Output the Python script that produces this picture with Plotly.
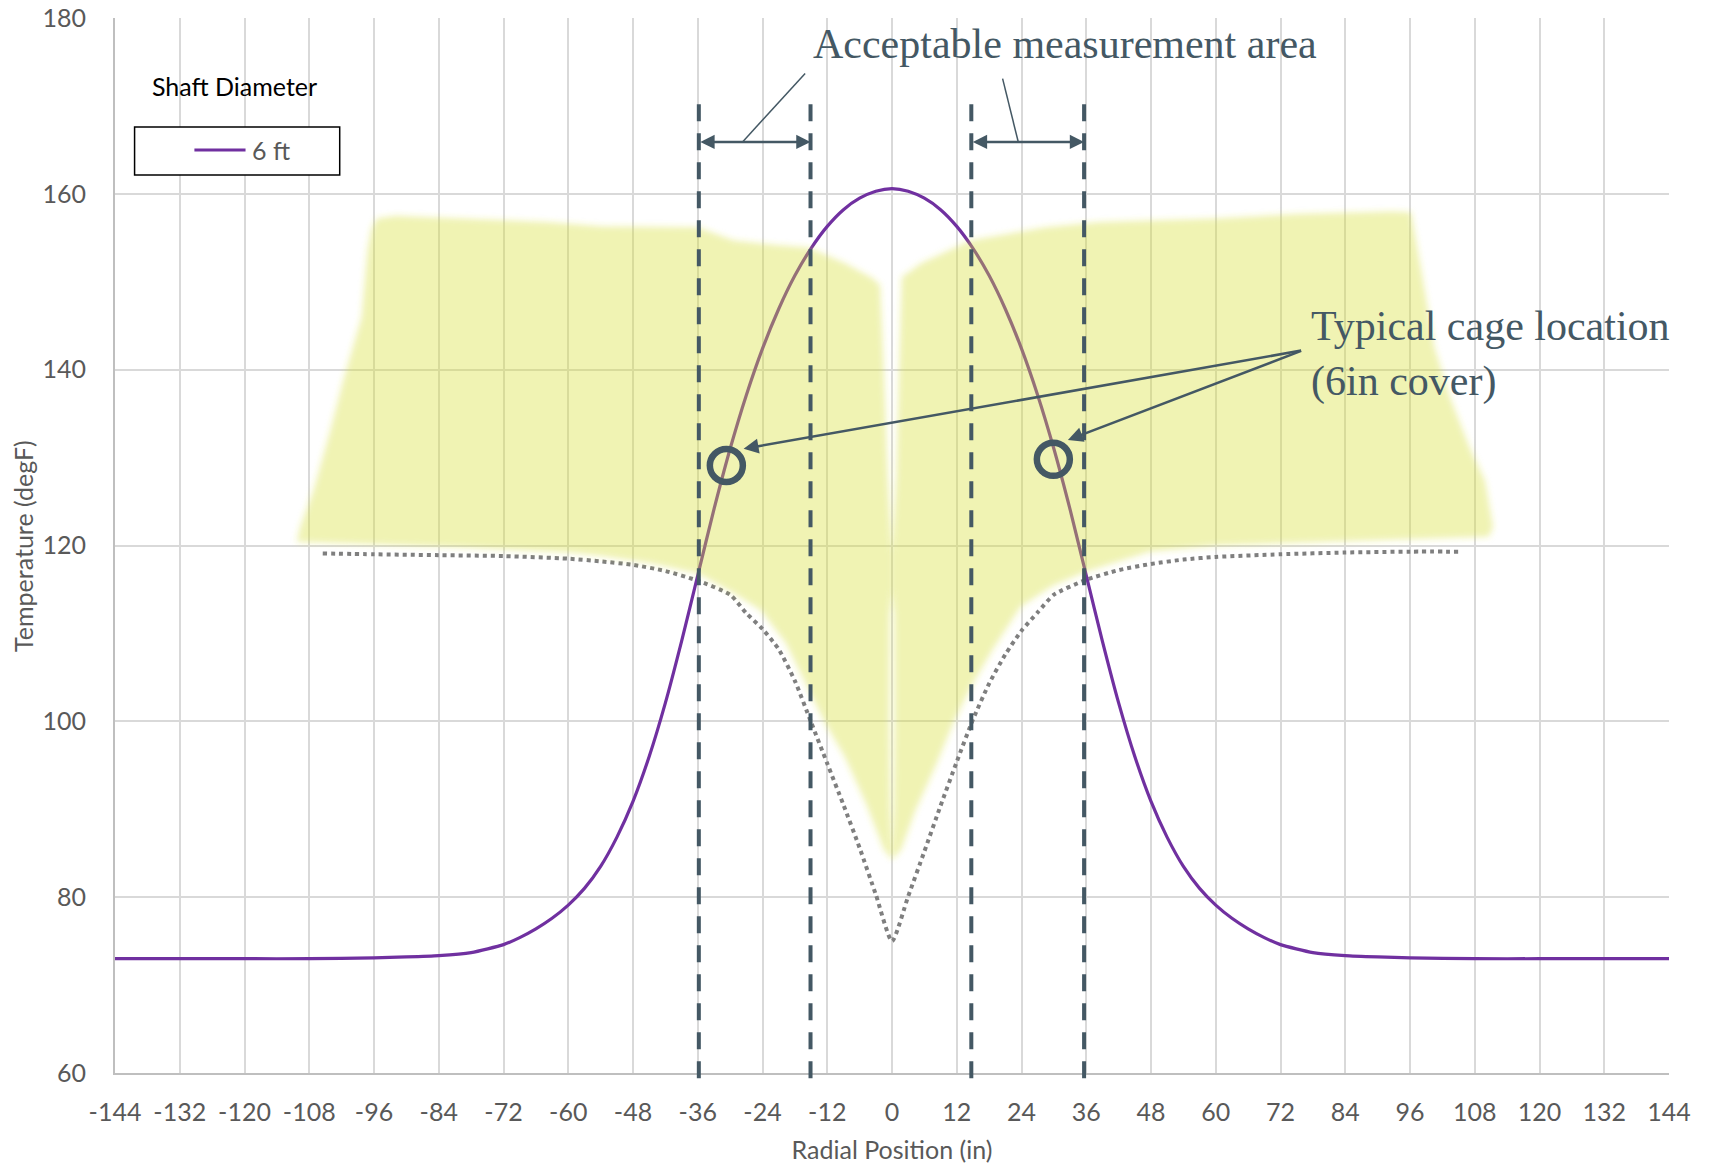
import plotly.graph_objects as go

# ---------------------------------------------------------------
# Radial temperature profile across a 6 ft drilled shaft
# ---------------------------------------------------------------
radial_in = [-144, -132, -120, -108, -96, -90, -84, -78, -72, -69, -66, -63, -60, -57, -54, -51,
             -48, -45, -42, -39, -36, -33, -30, -27, -24, -21, -18, -15, -12, -9, -6, -3, 0,
             3, 6, 9, 12, 15, 18, 21, 24, 27, 30, 33, 36, 39, 42, 45, 48,
             51, 54, 57, 60, 63, 66, 69, 72, 78, 84, 90, 96, 108, 120, 132, 144]
temp_6ft = [73.0, 73.0, 73.0, 73.0, 73.1, 73.2, 73.35, 73.7, 74.6, 75.4, 76.4, 77.6, 79.1, 81.0, 83.5, 86.8,
            90.9, 96.0, 102.1, 109.1, 116.6, 124.1, 131.0, 137.1, 142.4, 146.9, 150.7, 153.8, 156.3, 158.2, 159.5, 160.3, 160.6,
            160.3, 159.5, 158.2, 156.3, 153.8, 150.7, 146.9, 142.4, 137.1, 131.0, 124.1, 116.6, 109.1, 102.1, 96.0, 90.9,
            86.8, 83.5, 81.0, 79.1, 77.6, 76.4, 75.4, 74.6, 73.7, 73.35, 73.2, 73.1, 73.0, 73.0, 73.0, 73.0]

# Reference (dotted) profile
ref_in = [-105.5, -96, -84, -72, -60, -54, -48, -42, -36, -30, -27, -24, -21, -18, -15, -12, -9, -6, -3, 0,
          3, 6, 9, 12, 15, 18, 21, 24, 27, 30, 36, 42, 48, 54, 60, 72, 84, 96, 105.5]
ref_temp = [119.1, 119.0, 118.9, 118.8, 118.5, 118.2, 117.8, 117.1, 116.0, 114.4, 112.3, 110.5, 108.2, 104.6, 99.9, 95.2, 90.5, 85.6, 80.3, 75.0,
            80.1, 85.2, 90.4, 95.4, 100.2, 104.3, 107.6, 110.3, 112.4, 114.4, 116.1, 117.2, 117.9, 118.4, 118.7, 119.0, 119.2, 119.3, 119.3]

# Highlighted zone (two lobes split by a narrow gap at the centre)
zone_left_x = [-110.3, -109.7, -107.2, -104.1, -101.7, -100.1, -98.3, -97.2, -96.5, -95.5,
               -92.0, -80.0, -64.0, -54.0, -36.0, -29.3, -22.0, -15.5, -8.7, -3.6, -2.2,
               -1.5, -0.8, -0.2, 0.0, 0.0, -0.45, -0.5, -0.35, 0.0,
               -1.5, -4.8, -8.7, -12.6, -15.8, -19.7, -24.3, -29.4, -35.9, -45.0, -54.0,
               -60.0, -80.0, -100.0]
zone_left_t = [120.4, 122.1, 126.3, 133.1, 138.8, 142.2, 146.0, 153.6, 156.0, 157.2,
               157.5, 157.2, 156.8, 156.3, 156.2, 154.7, 154.2, 153.9, 152.1, 150.4, 149.6,
               140.0, 128.0, 121.0, 119.0, 115.0, 112.0, 100.0, 90.0, 84.3,
               85.4, 90.6, 95.9, 100.0, 104.0, 108.9, 112.6, 114.6, 116.8, 118.0, 118.8,
               119.2, 119.8, 120.2]

zone_right_x = [0.0, 0.35, 0.5, 0.45, 0.0, 0.0, 0.2, 0.8, 1.3, 1.8,
                5.4, 14.5, 28.5, 38.5, 60.1, 74.6, 92.6, 96.2,
                98.4, 100.5, 103.4, 107.0, 109.9, 111.4, 110.6,
                89.0, 60.1, 47.7, 35.8, 29.7, 23.8, 18.6, 14.7, 11.5, 8.2, 4.3, 1.7]
zone_right_t = [84.3, 90.0, 100.0, 112.0, 115.0, 119.0, 121.0, 128.0, 140.0, 150.5,
                152.1, 154.7, 156.2, 156.8, 157.2, 157.7, 158.0, 157.9,
                150.2, 142.6, 136.9, 131.2, 127.4, 122.1, 121.0,
                120.6, 120.0, 119.3, 117.0, 115.4, 113.0, 108.1, 104.0, 100.0, 95.1, 89.8, 85.4]

# Acceptable measurement bands (inner / outer bounds, in)
band_left = [-35.8, -15.1]
band_right = [14.7, 35.6]
band_top_temp = 170.5
band_bottom_temp = 59.4
band_arrow_temp = 165.9

# Typical cage locations (marked with circles)
cage_x = [-30.7, 29.9]
cage_t = [129.1, 129.8]

x_ticks = [-144, -132, -120, -108, -96, -84, -72, -60, -48, -36, -24, -12, 0,
           12, 24, 36, 48, 60, 72, 84, 96, 108, 120, 132, 144]
y_ticks = [60, 80, 100, 120, 140, 160, 180]

X_RANGE = [-144, 144]
Y_RANGE = [60, 180]

SLATE = "#445864"
PURPLE = "#7030A0"
HAZE = "rgba(215,223,47,0.37)"
SERIF = "Liberation Serif"
SANS = "Lato"


def to_paper_y(t):
    return (t - Y_RANGE[0]) / (Y_RANGE[1] - Y_RANGE[0])


fig = go.Figure()

fig.add_trace(go.Scatter(
    x=ref_in, y=ref_temp, mode="lines",
    line=dict(color="#7F7F7F", width=4, dash="4px,4px", shape="spline", smoothing=0.6),
    hoverinfo="skip", showlegend=False))

fig.add_trace(go.Scatter(
    x=radial_in, y=temp_6ft, mode="lines", name="6 ft",
    line=dict(color=PURPLE, width=3.2, shape="spline", smoothing=0.6),
    showlegend=False))

for zx, zt in ((zone_left_x, zone_left_t), (zone_right_x, zone_right_t)):
    fig.add_trace(go.Scatter(
        x=zx, y=zt, mode="lines", fill="toself", fillcolor=HAZE,
        line=dict(width=0, color="rgba(0,0,0,0)"),
        hoverinfo="skip", showlegend=False))

fig.add_trace(go.Scatter(
    x=cage_x, y=cage_t, mode="markers",
    marker=dict(symbol="circle-open", size=33, line=dict(color=SLATE, width=6.5), color=SLATE),
    hoverinfo="skip", showlegend=False))

# Dashed band boundaries
for bx in band_left + band_right:
    fig.add_shape(type="line", xref="x", yref="paper",
                  x0=bx, x1=bx, y0=to_paper_y(band_bottom_temp), y1=to_paper_y(band_top_temp),
                  line=dict(color=SLATE, width=4, dash="17px,12px"), layer="above")

# Double-headed width arrows
for b in (band_left, band_right):
    fig.add_annotation(x=b[1], y=band_arrow_temp, ax=b[0], ay=band_arrow_temp,
                       xref="x", yref="y", axref="x", ayref="y", text="",
                       showarrow=True, arrowhead=2, startarrowhead=2, arrowside="end+start",
                       arrowsize=1.1, startarrowsize=1.1, arrowwidth=2.6, arrowcolor=SLATE,
                       standoff=0, startstandoff=0)

# Leader lines from the label to the arrows
leaders = [((-16.1, 173.7), (-27.7, band_arrow_temp)), ((20.5, 173.1), (23.4, band_arrow_temp))]
for (x0, y0), (x1, y1) in leaders:
    fig.add_shape(type="line", xref="x", yref="y", x0=x0, y0=y0, x1=x1, y1=y1,
                  line=dict(color=SLATE, width=1.5), layer="above")

fig.add_annotation(x=-15.0, y=177.0, xref="x", yref="y", xanchor="left", yanchor="middle",
                   text="Acceptable measurement area", showarrow=False,
                   font=dict(family=SERIF, size=42, color=SLATE))

# Cage callout
callout_origin = (76.1, 142.2)
cage_tips = [(-27.5, 131.0), (32.6, 132.0)]
for tx, ty in cage_tips:
    fig.add_annotation(x=tx, y=ty, ax=callout_origin[0], ay=callout_origin[1],
                       xref="x", yref="y", axref="x", ayref="y", text="",
                       showarrow=True, arrowhead=2, arrowsize=1.15, arrowwidth=2.6,
                       arrowcolor=SLATE, standoff=0)

fig.add_annotation(x=77.2, y=141.8, xref="x", yref="y", xanchor="left", yanchor="middle",
                   align="left", text="Typical cage location<br>(6in cover)", showarrow=False,
                   font=dict(family=SERIF, size=42, color=SLATE))

# Legend block
fig.add_annotation(x=0.0772, y=0.936, xref="paper", yref="paper", xanchor="center", yanchor="middle",
                   text="Shaft Diameter", showarrow=False, font=dict(family=SANS, size=25, color="#000000"))
fig.add_shape(type="rect", xref="paper", yref="paper", x0=0.0126, x1=0.1446, y0=0.8512, y1=0.8966,
              line=dict(color="#000000", width=1.5), fillcolor="white", layer="above")
fig.add_shape(type="line", xref="paper", yref="paper", x0=0.0511, x1=0.0840, y0=0.8749, y1=0.8749,
              line=dict(color=PURPLE, width=3.2), layer="above")
fig.add_annotation(x=0.0870, y=0.8749, xref="paper", yref="paper", xanchor="left", yanchor="middle",
                   text="6 ft", showarrow=False, font=dict(family=SANS, size=25, color="#595959"))

# Vertical axis title
fig.add_annotation(x=-0.0596, y=0.5, xref="paper", yref="paper", xanchor="center", yanchor="middle",
                   text="Temperature (degF)", textangle=-90, showarrow=False,
                   font=dict(family=SANS, size=25, color="#595959"))

fig.update_layout(
    width=1711, height=1169,
    margin=dict(l=114.6, r=41.5, t=17.5, b=96, pad=0),
    plot_bgcolor="white", paper_bgcolor="white",
    showlegend=False,
    font=dict(family=SANS, size=25, color="#595959"),
)

fig.update_xaxes(
    range=X_RANGE, tickmode="array", tickvals=x_ticks, ticktext=[str(v) for v in x_ticks],
    showgrid=True, gridcolor="#D9D9D9", gridwidth=1.5, zeroline=False, automargin=False,
    showline=True, linecolor="#BFBFBF", linewidth=2, ticks="", ticklabelstandoff=16,
    tickfont=dict(family=SANS, size=25, color="#595959"),
    title=dict(text="Radial Position (in)", standoff=16, font=dict(family=SANS, size=25, color="#595959")),
)
fig.update_yaxes(
    range=Y_RANGE, tickmode="array", tickvals=y_ticks, ticktext=[str(v) for v in y_ticks],
    showgrid=True, gridcolor="#D9D9D9", gridwidth=1.5, zeroline=False, automargin=False,
    showline=True, linecolor="#BFBFBF", linewidth=2, ticks="", ticklabelstandoff=22,
    tickfont=dict(family=SANS, size=25, color="#595959"),
)

# Soft highlighter edge on the filled zone
soft_edges = """
var gd = document.getElementById('{plot_id}');
function soften(){
  var svg = gd.querySelector('svg.main-svg');
  if (!svg) return;
  var ns = 'http://www.w3.org/2000/svg';
  var defs = svg.querySelector('defs');
  if (!document.getElementById('zone-haze')) {
    var f = document.createElementNS(ns, 'filter');
    f.setAttribute('id', 'zone-haze');
    f.setAttribute('x', '-20%'); f.setAttribute('y', '-20%');
    f.setAttribute('width', '140%'); f.setAttribute('height', '140%');
    var b = document.createElementNS(ns, 'feGaussianBlur');
    b.setAttribute('stdDeviation', '3');
    f.appendChild(b); defs.appendChild(f);
  }
  gd.querySelectorAll('path.js-fill').forEach(function(p){ p.setAttribute('filter', 'url(#zone-haze)'); });
}
soften();
if (gd.on) { gd.on('plotly_afterplot', soften); }
"""

fig.write_html("out.html", post_script=soft_edges)
